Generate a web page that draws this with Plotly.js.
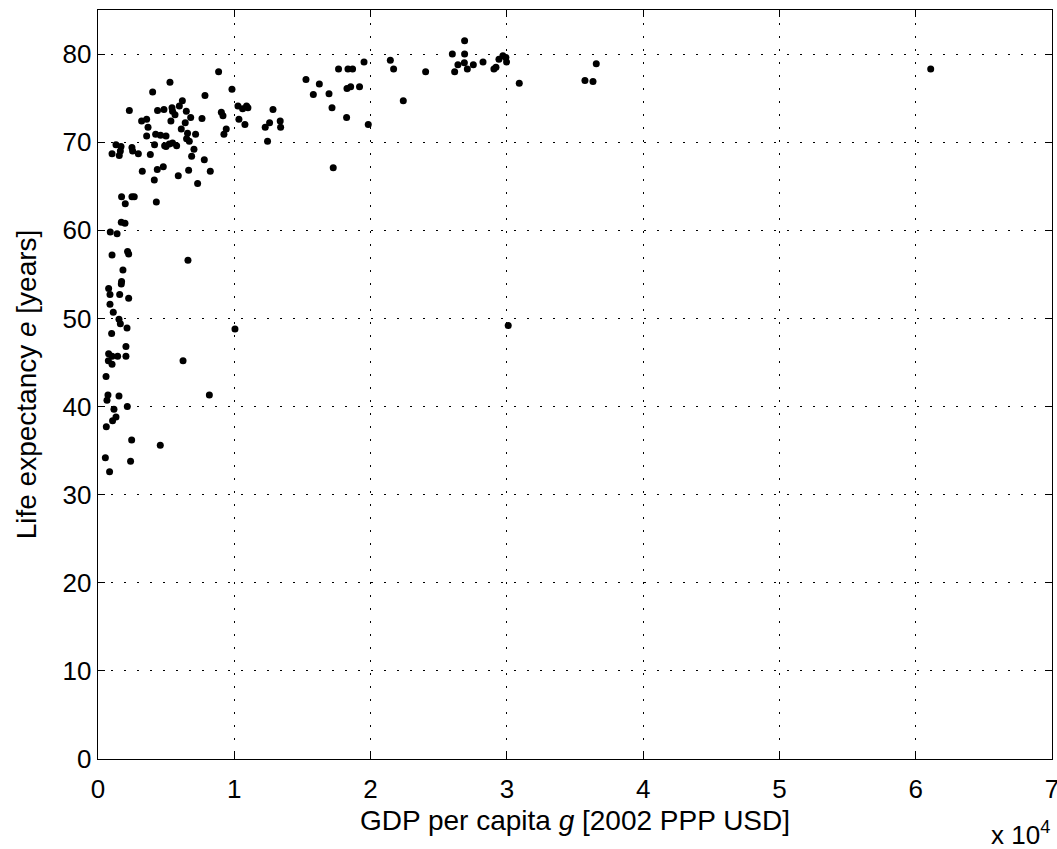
<!DOCTYPE html>
<html>
<head>
<meta charset="utf-8">
<script src="https://cdn.plot.ly/plotly-3.0.1.min.js"></script>
<style>html,body{margin:0;padding:0;background:#fff;}#chart{width:1057px;height:849px;}</style>
</head>
<body>
<div id="chart"></div>
<script>
// GDP per capita (2002 PPP USD)
const gdpPerCapita = [
  8850, 5280, 9830, 4010, 7850, 6190, 5970, 5430, 2300, 4370,
  4840, 5470, 6480, 5650, 6800, 7630, 9050, 9170, 10270, 10610,
  10900, 11000, 12840, 3200, 3570, 3670, 5350, 6400, 6110, 10340,
  10780, 12590, 12270, 13370, 13400, 9410, 9240, 3570, 4230, 4590,
  4990, 6570, 7160, 6500, 6700, 12440, 4150, 4890, 5230, 5470,
  5770, 4990, 1320, 1690, 1030, 1560, 1640, 2490, 2540, 2960,
  3840, 7040, 6870, 7800, 4790, 4350, 3250, 6650, 8240, 5890,
  4130, 7310, 1730, 2000, 2490, 2660, 4280, 1710, 1980, 900,
  1400, 2170, 2250, 1030, 6600, 1830, 1730, 1710, 780, 880,
  1590, 2250, 880, 1120, 1540, 1640, 2130, 1000, 10050, 2050,
  780, 1030, 1440, 2050, 760, 1030, 6240, 590, 730, 660,
  1540, 8170, 2150, 1170, 1320, 1070, 610, 2470, 4570, 540,
  2390, 850, 15260, 16240, 15800, 16950, 17170, 17260, 17650, 18340,
  18680, 19520, 18270, 18540, 19190, 18240, 19830, 21450, 21690, 22400,
  24040, 26000, 26900, 26900, 26410, 26880, 26170, 27100, 27540, 28250,
  29050, 29200, 29420, 29710, 29930, 29980, 30910, 35730, 36320, 36560,
  30100, 61100
];
// Life expectancy (years)
const lifeExpectancy = [
  78.0, 76.8, 76.0, 75.7, 75.3, 74.7, 74.1, 73.9, 73.6, 73.6,
  73.7, 73.5, 73.5, 73.1, 72.8, 72.7, 73.4, 73.0, 74.1, 73.8,
  74.1, 73.9, 73.7, 72.4, 72.6, 71.7, 72.4, 72.2, 71.5, 72.6,
  72.0, 72.2, 71.7, 72.4, 71.7, 71.5, 70.9, 70.7, 70.9, 70.8,
  70.7, 71.0, 70.9, 70.4, 70.1, 70.1, 69.7, 69.6, 69.8, 69.9,
  69.6, 69.5, 69.7, 69.5, 68.7, 68.5, 69.0, 69.4, 69.0, 68.7,
  68.6, 69.2, 68.4, 68.0, 67.2, 66.9, 66.7, 66.8, 66.7, 66.2,
  65.7, 65.3, 63.8, 63.0, 63.8, 63.8, 63.2, 60.9, 60.8, 59.8,
  59.6, 57.6, 57.3, 57.2, 56.6, 55.5, 54.2, 53.9, 53.4, 52.7,
  52.7, 52.3, 51.6, 50.7, 49.9, 49.4, 48.9, 48.3, 48.8, 46.8,
  46.0, 45.7, 45.7, 45.7, 45.2, 44.8, 45.2, 43.4, 41.3, 40.7,
  41.2, 41.3, 40.0, 39.7, 38.8, 38.4, 37.7, 36.2, 35.6, 34.2,
  33.8, 32.6, 77.1, 76.6, 75.4, 75.5, 73.9, 67.1, 78.3, 78.3,
  78.3, 79.1, 76.1, 76.3, 76.3, 72.8, 72.0, 79.3, 78.3, 74.7,
  78.0, 80.0, 81.5, 80.0, 78.8, 79.0, 78.0, 78.3, 78.8, 79.1,
  78.3, 78.5, 79.4, 79.8, 79.6, 79.1, 76.7, 77.0, 76.9, 78.9,
  49.2, 78.3
];
const xTickVals = [0, 10000, 20000, 30000, 40000, 50000, 60000, 70000];
const xTickText = ['0', '1', '2', '3', '4', '5', '6', '7'];
const yTickVals = [0, 10, 20, 30, 40, 50, 60, 70, 80];

const fontFamily = '"Liberation Sans", Arial, Helvetica, sans-serif';

const trace = {
  x: gdpPerCapita,
  y: lifeExpectancy,
  type: 'scatter',
  mode: 'markers',
  marker: {color: '#000000', size: 7, line: {width: 0}},
  hoverinfo: 'x+y',
  showlegend: false
};

const axisCommon = {
  showline: true,
  linecolor: '#000000',
  linewidth: 1.3,
  mirror: 'ticks',
  ticks: 'inside',
  ticklen: 7,
  tickcolor: '#000000',
  tickwidth: 1,
  showgrid: true,
  gridcolor: '#000000',
  gridwidth: 1,
  griddash: '2px,11px',
  zeroline: false,
  ticklabeloverflow: 'allow',
  tickfont: {family: fontFamily, size: 26, color: '#000000'}
};

const layout = {
  width: 1057,
  height: 849,
  margin: {l: 98, r: 5, t: 10, b: 90},
  paper_bgcolor: '#ffffff',
  plot_bgcolor: '#ffffff',
  font: {family: fontFamily, color: '#000000'},
  xaxis: Object.assign({}, axisCommon, {
    range: [0, 70000],
    tickmode: 'array',
    tickvals: xTickVals,
    ticktext: xTickText,
    ticklabelstandoff: 6,
    title: {text: 'GDP per capita <i>g</i> [2002 PPP USD]', font: {family: fontFamily, size: 28, color: '#000000'}, standoff: 8}
  }),
  yaxis: Object.assign({}, axisCommon, {
    range: [0, 85],
    tickmode: 'array',
    tickvals: yTickVals,
    title: {text: 'Life expectancy <i>e</i> [years]', font: {family: fontFamily, size: 28, color: '#000000'}, standoff: 17}
  }),
  annotations: [{
    text: 'x 10<sup>4</sup>',
    xref: 'paper', yref: 'paper',
    x: 1, y: -0.1,
    xanchor: 'right', yanchor: 'middle',
    showarrow: false,
    font: {family: fontFamily, size: 26, color: '#000000'}
  }]
};

Plotly.newPlot('chart', [trace], layout, {displayModeBar: false, staticPlot: true});
</script>
</body>
</html>
